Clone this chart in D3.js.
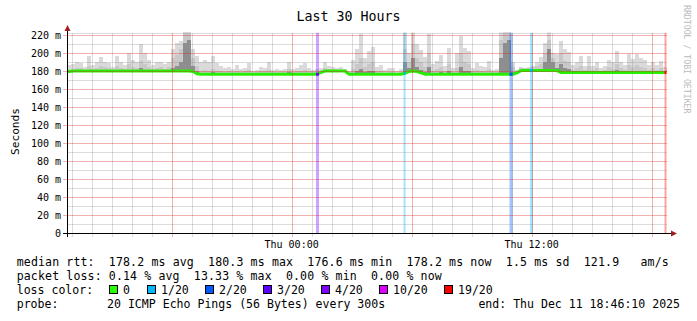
<!DOCTYPE html>
<html><head><meta charset="utf-8">
<script src="https://cdn.jsdelivr.net/npm/d3@7"></script>
<style>html,body{margin:0;padding:0;background:#fff}svg{display:block}text{font-family:"DejaVu Sans Mono",monospace}</style>
</head><body><svg id="c" width="697" height="321"></svg>
<script>
const title = "Last 30 Hours";
const yAxisTitle = "Seconds";
const watermark = "RRDTOOL / TOBI OETIKER";
const startTime = "2025-12-10T12:46:10";
const endTime = "2025-12-11T18:46:10";
const sampleMinutes = 12;

// median rtt (ms) per 12-minute sample
const median = [
180,180.5,180.5,180.5,180.5,180.5,180.5,180.5,180.5,180.5,180.5,180.5,180.5,180.5,180.5,180.5,180.5,180.5,180.5,180.5,180.5,180.5,180.5,180.5,180.5,
180.5,180.5,180.5,180.5,180.5,180.5,180,177.5,177,177,177,177,177,177,177,177,177,177,177,177,177,177,177,177,177,
177,177,177,177,177,177,177,177,177,177,177,177,177,179,180.5,180.5,180.5,180.5,180.5,180.5,177,177,177,177,177,
177,177,177,177,177,177,177,177,177,178,180,180.5,180,178.5,177,177,177,177,177,177,177,177,177,177,177,
177,177,177,177,177,177,177,177,177,177,177,177,178.5,181,181,181,181,181,181,181,181,181,181,179,179,
179,179,179,179,179,179,179,179,179,179,179,179,179,179,179,179,179,179,179,179,179,179,179,179,179];
// highest ping of each sample (ms)
const smokeMax = [
187,188,191,189,185,197,187,190,196,191,189,185,197,190,187,200,193,190,211,200,193,187,191,191,188,
191,205,212,214,224,224,205,197,191,193,190,197,189,186,184,185,183,187,183,184,189,181,182,185,184,
190,182,183,182,183,191,183,184,187,189,184,182,183,184,191,186,185,184,185,183,181,193,205,222,195,
203,207,185,187,182,184,184,181,183,224,200,224,210,204,196,222,188,192,198,186,206,184,200,219,206,
203,184,189,186,185,192,182,183,224,224,224,190,182,185,184,185,186,190,196,212,224,200,199,214,205,
202,187,191,197,186,197,186,191,184,186,193,190,203,191,187,199,194,199,195,193,187,191,187,192,185];
// upper-middle pings (ms)
const smokeMid = [
182,183,184,184,182,186,183,184,186,185,184,182,186,184,183,188,185,184,192,188,185,183,184,185,183,
185,195,198,205,224,224,195,186,181,182,181,183,181,180,179,180,179,181,179,180,182,178,179,180,180,
182,179,179,179,179,183,179,180,181,182,180,179,179,181,184,183,183,182,182,182,179,183,188,195,185,
188,190,180,181,178,179,179,178,179,205,190,210,195,190,185,200,180,183,185,180,188,179,184,200,190,
188,180,182,180,180,183,179,179,215,224,224,185,181,184,184,184,185,186,188,200,215,195,190,200,192,
190,182,184,186,182,186,182,184,181,182,185,183,188,184,182,187,185,187,185,184,182,184,182,184,181];
// dense pings near the median (ms)
const smokeDark = [
181,181,182,181,181,182,181,181,182,181,181,181,182,181,181,182,181,181,184,182,181,181,181,181,181,
181,184,186,190,212,215,186,181,178,178,178,179,178,178,177,178,177,178,177,177,178,177,177,177,177,
178,177,177,177,177,179,177,177,178,178,177,177,177,179.5,182,181,181,181,181,181,177,178,180,183,179,
180,181,177,178,177,177,177,177,177,190,184,195,185,182,179,185,177,178,179,177,180,177,178,185,181,
180,177,178,177,177,178,177,177,195,212,215,179,179,182,182,182,182,182,183,190,205,190,184,188,184,
183,180,181,181,180,181,180,180,179,180,181,180,182,180,180,181,181,181,181,180,180,180,180,180,180];

const lossTimes = ["2025-12-11T01:13:10","2025-12-11T05:35:40","2025-12-11T10:53:40","2025-12-11T11:55:10","2025-12-11T18:38:40"];
const lossMinutes = [9, 6, 10, 9, 6];
const lossLevels = ["4/20","1/20","2/20","1/20","19/20"];

const lossLabels = ["0","1/20","2/20","3/20","4/20","10/20","19/20"];
const lossColors = ["#26ff00","#00b8ff","#0059ff","#5e00ff","#7e00ff","#dd00ff","#ff0000"];

const yTicks = [0,20,40,60,80,100,120,140,160,180,200,220];
const yMinor = [10,30,50,70,90,110,130,150,170,190,210];
const xLabelTimes = ["2025-12-11T00:00:00","2025-12-11T12:00:00"];
const xLabels = ["Thu 00:00","Thu 12:00"];

const legendRtt = "median rtt:  178.2 ms avg  180.3 ms max  176.6 ms min  178.2 ms now  1.5 ms sd  121.9   am/s";
const legendLoss = "packet loss: 0.14 % avg  13.33 % max  0.00 % min  0.00 % now";
const legendColor = "loss color:";
const legendProbe = "probe:       20 ICMP Echo Pings (56 Bytes) every 300s";
const legendEnd = "end: Thu Dec 11 18:46:10 2025";

const pre = s => s.replace(/ /g, "\u00a0");

const svg = d3.select("#c");
const MS = 60000;
const t0 = new Date(startTime), t1 = new Date(endTime);
const x = d3.scaleTime().domain([t0, t1]).range([67, 667]);
const y = d3.scaleLinear().domain([0, 223.33]).range([233.5, 32.5]);
const sx = (t, m) => x(new Date(+t + m * MS));

const samples = median.map((m, i) => ({
  t: new Date(+t0 + i * sampleMinutes * MS), m,
  max: smokeMax[i], mid: smokeMid[i], dark: smokeDark[i]
}));

svg.append("defs").append("clipPath").attr("id","plot")
  .append("rect").attr("x",67).attr("y",y.range()[1]).attr("width",600).attr("height",y.range()[0]-y.range()[1]);

const plot = svg.append("g").attr("clip-path","url(#plot)");

// smoke
[["max","#dadada"],["mid","#c8c8c8"],["dark","#8e8e8e"]].forEach(([k,c]) => {
  plot.append("g").selectAll("rect").data(samples).join("rect")
    .attr("shape-rendering","crispEdges")
    .attr("x", d => x(d.t)).attr("width", d => sx(d.t, sampleMinutes) - x(d.t))
    .attr("y", d => y(d[k])).attr("height", d => Math.max(0, y(d.m) - y(d[k])))
    .attr("fill", c);
});

// loss bars
const losses = lossTimes.map((s,i) => ({t:new Date(s), dur:lossMinutes[i], c:lossColors[lossLabels.indexOf(lossLevels[i])]}));
plot.append("g").selectAll("rect").data(losses).join("rect")
  .attr("x", d => x(d.t)).attr("width", d => sx(d.t, d.dur) - x(d.t))
  .attr("y", y.range()[1]).attr("height", y.range()[0]-y.range()[1])
  .attr("fill", d => d.c).attr("opacity", 0.36);

// grid
const grid = svg.append("g").attr("shape-rendering","crispEdges");
const minorC = "rgba(140,140,140,0.3)", majorC = "rgba(220,40,40,0.36)";
grid.selectAll(".hm").data(yMinor.concat([223.33])).join("line")
  .attr("x1",67).attr("x2",667).attr("y1",d=>Math.round(y(d))+0.5).attr("y2",d=>Math.round(y(d))+0.5).attr("stroke",minorC);
const hours = d3.timeHour.range(t0, t1);
grid.selectAll(".vm").data(hours.filter(h => h.getHours()%6 !== 0)).join("line")
  .attr("x1",d=>Math.round(x(d))+0.5).attr("x2",d=>Math.round(x(d))+0.5).attr("y1",y.range()[1]).attr("y2",236.5).attr("stroke",minorC);
grid.selectAll(".vM").data(hours.filter(h => h.getHours()%6 === 0)).join("line")
  .attr("x1",d=>Math.round(x(d))+0.5).attr("x2",d=>Math.round(x(d))+0.5).attr("y1",y.range()[1]).attr("y2",236.5).attr("stroke",majorC);
grid.selectAll(".hM").data(yTicks.filter(v=>v>0)).join("line")
  .attr("x1",63).attr("x2",667).attr("y1",d=>Math.round(y(d))+0.5).attr("y2",d=>Math.round(y(d))+0.5).attr("stroke",majorC);

// median line
const line = d3.line().x(d => sx(d.t, sampleMinutes/2)).y(d => y(d.m));
plot.append("path").datum([{t:new Date(+t0 - sampleMinutes/2*MS), m:median[0]}].concat(samples))
  .attr("d", line).attr("fill","none").attr("stroke","#26ee00").attr("stroke-width",3);
plot.append("g").selectAll("line").data(losses).join("line")
  .attr("x1", d => x(d.t)).attr("x2", d => sx(d.t, d.dur))
  .attr("y1", d => y(median[Math.min(median.length-1, Math.floor((d.t - t0)/(sampleMinutes*MS)))]))
  .attr("y2", d => y(median[Math.min(median.length-1, Math.floor((d.t - t0)/(sampleMinutes*MS)))]))
  .attr("stroke", d => d.c).attr("stroke-width",3);

// axes
const ax = svg.append("g");
ax.append("line").attr("x1",63).attr("x2",672).attr("y1",233.5).attr("y2",233.5).attr("stroke","#000");
ax.append("line").attr("x1",67.5).attr("x2",67.5).attr("y1",237).attr("y2",30).attr("stroke","#000");
ax.append("path").attr("d","M64.5,31L70.5,31L67.5,25Z").attr("fill","#a01e1e");
ax.append("path").attr("d","M671,230.5L671,236.5L677,233.5Z").attr("fill","#a01e1e");

ax.selectAll(".yl").data(yTicks).join("text")
  .attr("x",61).attr("y",d=>y(d)+3.6).attr("text-anchor","end").attr("font-size","10px").attr("fill","#000")
  .text(d => pre(d === 0 ? "0" : d + " m"));
ax.selectAll(".xl").data(xLabelTimes).join("text")
  .attr("x",d=>x(new Date(d))).attr("y",247.5).attr("text-anchor","middle").attr("font-size","10px").attr("fill","#000")
  .text((d,i)=>pre(xLabels[i]));

svg.append("text").attr("x",348.5).attr("y",20.5).attr("text-anchor","middle").attr("font-size","13.3px").text(title);
svg.append("text").attr("transform","translate(18.5,131.5) rotate(-90)").attr("text-anchor","middle").attr("font-size","11.2px").text(yAxisTitle);
svg.append("text").attr("transform","translate(683.5,5) rotate(90)").attr("font-size","8.2px").attr("fill","#bbbbbb").text(watermark);

// legend
const lg = svg.append("g").attr("font-size","11.55px");
lg.append("text").attr("x",16.7).attr("y",265.7).attr("textLength",652).attr("lengthAdjust","spacing").text(pre(legendRtt));
lg.append("text").attr("x",16.7).attr("y",279.7).attr("textLength",425).attr("lengthAdjust","spacing").text(pre(legendLoss));
lg.append("text").attr("x",16.7).attr("y",294).text(pre(legendColor));
const boxX = [109, 147, 205, 263, 321, 379, 444];
lossLabels.forEach((l,i) => {
  lg.append("rect").attr("x",boxX[i]+0.5).attr("y",285.5).attr("width",8).attr("height",8)
    .attr("fill",lossColors[i]).attr("stroke","#000").attr("shape-rendering","crispEdges");
  lg.append("text").attr("x",boxX[i]+14).attr("y",294).text(l);
});
lg.append("text").attr("x",16.7).attr("y",308).text(pre(legendProbe));
lg.append("text").attr("x",680).attr("y",308).attr("text-anchor","end").text(pre(legendEnd));
</script></body></html>
